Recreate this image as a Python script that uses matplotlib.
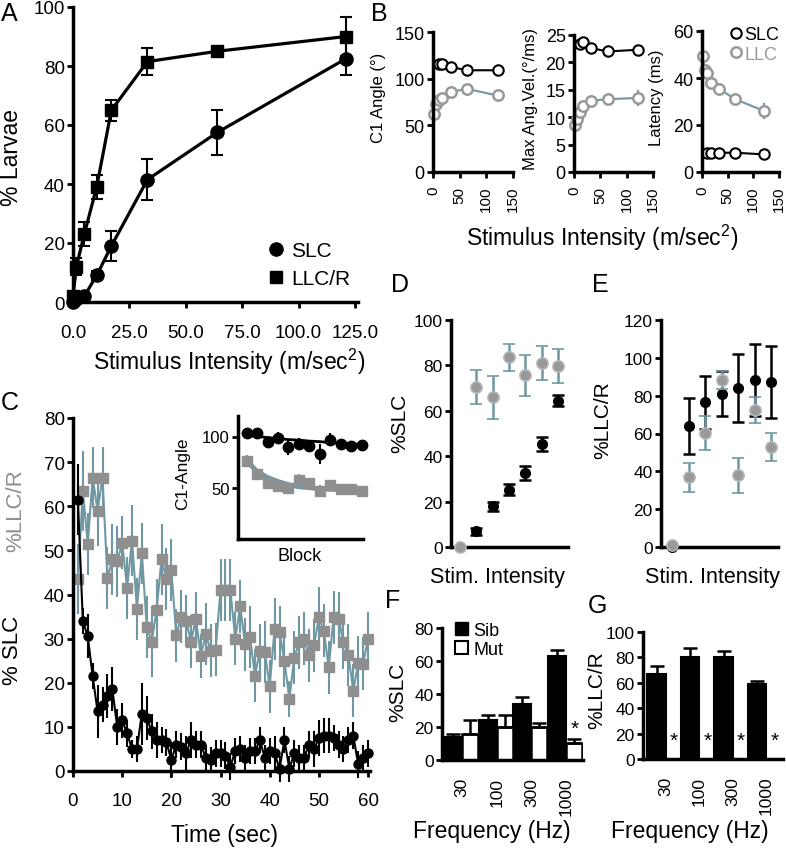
import matplotlib
matplotlib.use('Agg')
import matplotlib.pyplot as plt
from matplotlib.lines import Line2D
from matplotlib.patches import Patch

plt.rcParams['font.family'] = ['Liberation Sans', 'DejaVu Sans']
plt.rcParams['mathtext.fontset'] = 'custom'
plt.rcParams['mathtext.rm'] = 'Liberation Sans'
plt.rcParams['mathtext.it'] = 'Liberation Sans:italic'

# ---- data ----
# A: response probability vs stimulus intensity
a_x = [0, 1.5, 5, 10.5, 17, 33, 64, 121]
a_slc = [0, 1, 2, 9, 19, 41.5, 57.5, 82.5]
a_slc_err = [0.5, 0.5, 1, 1.5, 5, 7, 7.5, 5.5]
a_llc = [2, 12, 23, 39, 65, 81.5, 85, 90]
a_llc_err = [1, 3, 4, 4, 3.5, 4.5, 1.5, 6.5]

# B: kinematics
b_x_slc = [10.5, 17, 33, 64, 121]
b_x_llc = [1.5, 5, 10.5, 17, 33, 64, 121]
b_angle_slc = [116, 116, 112.5, 109, 109]
b_angle_llc = [62.5, 73, 77, 79, 86, 89, 82]
b_vel_slc = [23.4, 23.7, 22.6, 22, 22.3]
b_vel_llc = [8.6, 9.7, 11, 12, 13, 13.3, 13.5]
b_vel_llc_err = [0.5, 0.5, 0.5, 0.5, 0.8, 0.8, 1.5]
b_lat_slc = [8.2, 8.2, 8.2, 8.2, 7.5]
b_lat_llc = [49.4, 43.3, 42, 38, 35.5, 31, 26]
b_lat_llc_err = [1, 1, 1, 1, 1, 1, 3.5]

# C: habituation time course
c_time = list(range(1, 61))
c_slc = [61.5, 34, 30.5, 21.5, 13.5, 15, 17, 18.5, 10, 11.5,
         8.5, 5, 5, 13, 12, 9, 7, 7, 6.5, 2.5,
         6, 5.5, 4, 7, 6, 6, 3, 2.5, 4, 4,
         3.5, 1, 4.5, 5, 3, 4.5, 4.5, 7, 3, 4.5,
         4, 0.5, 7, 0.5, 4, 3, 3, 6, 5, 7.5,
         8, 8, 7.5, 6, 5, 7, 8, 1.5, 3, 4]
c_slc_err = [8, 3, 5, 3, 6, 4, 5, 5, 4, 4,
             3, 2, 3, 7, 5, 4, 4, 3, 3, 4,
             3, 3, 4, 4, 3, 3, 3, 3, 3, 3,
             3, 3, 3, 3, 3, 3, 3, 3, 3, 3,
             4, 3, 3, 3, 3, 3, 3, 3, 4, 4,
             4, 4, 3, 3, 3, 3, 3, 3, 3, 3]
c_llc = [43.5, 63.5, 51.5, 66.5, 59, 66.5, 43.7, 48, 47.5, 51.7,
         41.5, 52.2, 36.8, 49.3, 32.7, 29.3, 36.5, 48, 43.6, 45.5,
         30.8, 35, 34, 29.3, 34.5, 26, 31, 27.3, 27.5, 41,
         41, 41, 30, 37.3, 28.7, 30.3, 21.6, 27.3, 27, 19.2,
         32.2, 31.4, 25, 16.3, 25.7, 29.2, 30, 26.2, 28.5, 34.8,
         31.8, 23.5, 34.8, 34.5, 29.2, 26.3, 18.2, 24.5, 24.3, 30]
c_llc_err = [8, 9, 7, 7, 8, 7, 7, 8, 8, 6,
             7, 8, 7, 7, 7, 8, 7, 8, 7, 7,
             6, 6, 6, 6, 6, 5, 7, 6, 6, 7,
             7, 7, 6, 6, 6, 7, 6, 6, 7, 6,
             7, 6, 6, 4, 6, 6, 6, 6, 6, 7,
             6, 6, 6, 6, 6, 7, 6, 6, 6, 6]

# C inset: C1 angle per block
blk = [1, 2, 3, 4, 5, 6, 7, 8, 9, 10, 11, 12]
ins_slc = [103, 103, 95, 99, 90, 93, 91, 83, 97, 93, 91, 92]
ins_slc_err = [2, 2, 4, 5, 8, 6, 6, 10, 6, 4, 5, 4]
ins_slc_fit = [101, 100, 99, 98, 97, 96.5, 95.5, 95, 94, 93.5, 93, 92]
ins_llc = [76, 63, 55, 52, 50, 58, 55, 47, 53, 48.6, 48.6, 47]
ins_llc_err = [6, 5, 5, 4, 4, 5, 5, 6, 5, 4, 4, 4]
ins_llc_fit = [76, 66, 60, 56, 53, 51, 50, 49, 48.5, 48, 47.5, 47]

# D, E: mutant vs sibling across stimulus intensities
de_pos = [0, 1, 2, 3, 4, 5, 6]
d_black = [0, 7, 18, 25.3, 32.5, 45.5, 64.5]
d_black_err = [0, 1.5, 2, 2.5, 3, 3, 2.5]
d_grey = [0, 70.3, 66, 83.5, 75.7, 81, 79.8]
d_grey_err = [0, 7.5, 9.5, 6, 9, 7.5, 7.5]
e_black = [0, 64, 76.5, 81, 84, 88.3, 87]
e_black_err = [0, 15, 14, 12, 18, 19, 19]
e_grey = [1, 36.8, 60.4, 88.3, 37.8, 72.5, 52.8]
e_grey_err = [0, 7.5, 9, 5, 9, 7, 7.5]

# F, G: frequency
freq = ['30', '100', '300', '1000']
f_sib = [14, 24, 34, 63]
f_sib_err = [2, 3, 4, 3.7]
f_mut = [16, 19.7, 19.7, 10.2]
f_mut_err = [8, 7.5, 3, 2.8]
g_sib = [66.6, 80.3, 80.3, 58.7]
g_sib_err = [6.5, 7, 4.5, 2.5]
g_mut = [0, 0, 0, 0]

TEAL = '#6f98a2'
GREY = '#999999'
GREY_SQ = '#8f8f8f'

W, H = 786, 853
fig = plt.figure(figsize=(W / 100, H / 100), dpi=100)


def box(x0, y0, x1, y1):
    return fig.add_axes([x0 / W, 1 - y1 / H, (x1 - x0) / W, (y1 - y0) / H])


def txt(x, y, s, **kw):
    kw.setdefault('ha', 'center')
    kw.setdefault('va', 'center')
    fig.text(x / W, 1 - y / H, s, **kw)


def style(ax, size=13):
    for s in ['top', 'right']:
        ax.spines[s].set_visible(False)
    for s in ['left', 'bottom']:
        ax.spines[s].set_linewidth(2.5)
    ax.tick_params(width=2, length=4, labelsize=size, pad=2)
    ax.patch.set_alpha(0)


def noclip(cont):
    for art in cont.get_children():
        art.set_clip_on(False)


# ---------------- A ----------------
ax = box(73, 8, 358, 303)
style(ax, 13.5)
c = ax.errorbar(a_x, a_llc, yerr=a_llc_err, color='k', marker='s', ms=9, lw=2.3,
                capsize=4.5, elinewidth=1.5, capthick=1.5)
noclip(c)
c = ax.errorbar(a_x, a_slc, yerr=a_slc_err, color='k', marker='o', ms=9.5, lw=2.3,
                capsize=4.5, elinewidth=1.5, capthick=1.5)
noclip(c)
ax.set_xlim(0, 126.3)
ax.set_ylim(0, 100)
ax.set_xticks([0, 25, 50, 75, 100, 125])
ax.set_xticklabels(['0.0', '25.0', '50.0', '75.0', '100.0', '125.0'])
ax.set_yticks(range(0, 101, 20))
ax.tick_params(axis='x', pad=12)
hs = [Line2D([], [], ls='none', marker='o', color='k', ms=9.5),
      Line2D([], [], ls='none', marker='s', color='k', ms=9)]
ax.legend(hs, ['SLC', 'LLC/R'], loc='upper left', bbox_to_anchor=(268 / W, 1 - 242 / H),
          bbox_transform=fig.transFigure, frameon=False, fontsize=15,
          handlelength=0.8, handletextpad=0.3, borderpad=0, borderaxespad=0, labelspacing=0.45)
txt(12, 157, '% Larvae', rotation=90, fontsize=16.5)
txt(229, 362, r'Stimulus Intensity (m/sec$^{2}$)', fontsize=16.5)

# ---------------- B ----------------
b_specs = [
    ((433, 33, 513, 173), b_angle_slc, b_angle_llc, None, (0, 150), [0, 50, 100, 150],
     'C1 Angle (°)', 379),
    ((574, 36, 653, 173), b_vel_slc, b_vel_llc, b_vel_llc_err, (0, 25), [0, 5, 10, 15, 20, 25],
     'Max Ang.Vel.(°/ms)', 530),
    ((702, 32, 779, 173), b_lat_slc, b_lat_llc, b_lat_llc_err, (0, 60), [0, 20, 40, 60],
     'Latency (ms)', 657),
]
for rect, slc, llc, llc_err, ylim, yt, lab, lx in b_specs:
    ax = box(*rect)
    style(ax, 13)
    c = ax.errorbar(b_x_llc, llc, yerr=llc_err, color=TEAL, lw=1.5, marker='o', ms=7.5,
                    mfc='white', mec=GREY, mew=1.8, capsize=0, elinewidth=1.5)
    noclip(c)
    ln, = ax.plot(b_x_slc, slc, color='k', lw=1.5, marker='o', ms=7.5, mfc='white',
                  mec='k', mew=1.5, clip_on=False)
    ax.set_xlim(0, 150)
    ax.set_ylim(*ylim)
    ax.set_yticks(yt)
    ax.set_xticks([0, 50, 100, 150])
    ax.tick_params(axis='x', labelrotation=90, labelsize=11, pad=6)
    txt(lx, (rect[1] + rect[3]) / 2 - 5, lab, rotation=90, fontsize=12)
bh = [Line2D([], [], ls='none', marker='o', mfc='white', mec='k', mew=1.5, ms=7.5),
      Line2D([], [], ls='none', marker='o', mfc='white', mec=GREY, mew=1.8, ms=7.5)]
ax.legend(bh, ['SLC', 'LLC'], loc='upper left', bbox_to_anchor=(731 / W, 1 - 27 / H),
          bbox_transform=fig.transFigure, frameon=False, fontsize=13, labelcolor=['k', GREY],
          handlelength=0.5, handletextpad=0.25, borderpad=0, borderaxespad=0, labelspacing=0.15)
txt(602, 238, r'Stimulus Intensity (m/sec$^{2}$)', fontsize=16.5)

# ---------------- C ----------------
ax = box(73, 419, 370, 772)
style(ax, 13.5)
c = ax.errorbar(c_time, c_llc, yerr=c_llc_err, color=TEAL, lw=1.5, elinewidth=1.5, capsize=0,
                marker='s', ms=7, mfc=GREY_SQ, mec=GREY_SQ, zorder=2)
noclip(c)
c = ax.errorbar(c_time, c_slc, yerr=c_slc_err, color='k', lw=1.5, elinewidth=1.5, capsize=0,
                marker='o', ms=6.5, zorder=3)
noclip(c)
ax.set_xlim(0, 60.4)
ax.set_ylim(0, 80)
ax.set_xticks(range(0, 61, 10))
ax.set_yticks(range(0, 81, 10))
ax.tick_params(axis='x', pad=11)
txt(16, 511, '%LLC/R', rotation=90, fontsize=16, color=GREY_SQ)
txt(13, 650, '% SLC', rotation=90, fontsize=16)
txt(225, 836, 'Time (sec)', fontsize=16.5)

ins = box(238, 417, 363, 540)
style(ins, 12)
ins.plot(blk, ins_llc_fit, color=TEAL, lw=3.5, zorder=2)
c = ins.errorbar(blk, ins_llc, yerr=ins_llc_err, ls='none', marker='s', color=TEAL, ms=7,
                 mfc=GREY_SQ, mec=GREY_SQ, elinewidth=1.5, capsize=0, zorder=3)
noclip(c)
ins.plot(blk, ins_slc_fit, color='k', lw=2, zorder=4)
c = ins.errorbar(blk, ins_slc, yerr=ins_slc_err, ls='none', marker='o', color='k', ms=7.5,
                 elinewidth=1.5, capsize=0, zorder=5)
noclip(c)
ins.set_xlim(0.17, 12.13)
ins.set_ylim(0, 120)
ins.set_xticks([])
ins.set_yticks([50, 100])
txt(183, 474, 'C1-Angle', rotation=90, fontsize=12.5)
txt(300, 557, 'Block', fontsize=13)

# ---------------- D / E ----------------
de_specs = [
    ((451, 321, 568, 548), d_black, d_black_err, d_grey, d_grey_err, (-0.55, 6.6), (0, 100),
     range(0, 101, 20), '%SLC', 400, 423, 497),
    ((661, 321, 778, 548), e_black, e_black_err, e_grey, e_grey_err, (-0.67, 6.4), (0, 120),
     range(0, 121, 20), '%LLC/R', 603, 420, 712),
]
for rect, blk_v, blk_e, gr_v, gr_e, xl, yl, yt, lab, lx, ly, sx in de_specs:
    ax = box(*rect)
    style(ax, 12.5)
    c = ax.errorbar(de_pos, blk_v, yerr=blk_e, ls='none', marker='o', color='k', ms=7,
                    capsize=4.5, elinewidth=1.8, capthick=1.8, zorder=3)
    noclip(c)
    c = ax.errorbar(de_pos, gr_v, yerr=gr_e, ls='none', marker='o', color=TEAL, ms=8,
                    mfc=GREY, mec='#b5b5b5', mew=1.2, capsize=4.5, elinewidth=1.8,
                    capthick=1.8, zorder=4)
    noclip(c)
    ax.set_xlim(*xl)
    ax.set_ylim(*yl)
    ax.set_yticks(list(yt))
    ax.set_xticks([])
    txt(lx, ly, lab, rotation=90, fontsize=15)
    txt(sx, 577, 'Stim. Intensity', fontsize=15.5)

# ---------------- F ----------------
pos = [0, 1, 2, 3]
ax = box(442, 629, 583, 761)
style(ax, 12.5)
ax.bar(pos, f_sib, width=-0.52, align='edge', color='k', edgecolor='k', lw=1.5,
       yerr=[[0] * 4, f_sib_err], error_kw=dict(ecolor='k', elinewidth=1.8, capsize=5, capthick=1.8))
ax.bar(pos, f_mut, width=0.46, align='edge', color='white', edgecolor='k', lw=1.8,
       yerr=[[0] * 4, f_mut_err], error_kw=dict(ecolor='k', elinewidth=1.8, capsize=5, capthick=1.8))
ax.set_xlim(-0.57, 3.48)
ax.set_ylim(0, 80)
ax.set_yticks(range(0, 81, 20))
ax.set_xticks(pos)
ax.set_xticklabels(freq, rotation=90)
ax.tick_params(axis='x', length=0, pad=12)
ax.text(3.23, 19, '*', ha='center', va='center', fontsize=15)
fh = [Patch(facecolor='k', edgecolor='k'), Patch(facecolor='white', edgecolor='k', lw=1.5)]
ax.legend(fh, ['Sib', 'Mut'], loc='upper left', bbox_to_anchor=(455 / W, 1 - 623 / H),
          bbox_transform=fig.transFigure, frameon=False, fontsize=13,
          handlelength=0.7, handleheight=0.7, handletextpad=0.3, borderpad=0,
          borderaxespad=0, labelspacing=0.1)
txt(398, 692, '%SLC', rotation=90, fontsize=15)
txt(492, 832, 'Frequency (Hz)', fontsize=16.5)

# ---------------- G ----------------
ax = box(643, 633, 783, 760)
style(ax, 12.5)
ax.bar(pos, g_sib, width=-0.55, align='edge', color='k', edgecolor='k', lw=1.5,
       yerr=[[0] * 4, g_sib_err], error_kw=dict(ecolor='k', elinewidth=1.8, capsize=5, capthick=1.8))
ax.bar(pos, g_mut, width=0.45, align='edge', color='white', edgecolor='k', lw=1.8)
for p in pos:
    ax.text(p + 0.24, 14.5, '*', ha='center', va='center', fontsize=15)
ax.set_xlim(-0.68, 3.5)
ax.set_ylim(0, 100)
ax.set_yticks(range(0, 101, 20))
ax.set_xticks(pos)
ax.set_xticklabels(freq, rotation=90)
ax.tick_params(axis='x', length=0, pad=12)
txt(597, 690, '%LLC/R', rotation=90, fontsize=15)
txt(690, 832, 'Frequency (Hz)', fontsize=16.5)

# ---------------- panel letters ----------------
for lab, x, y in [('A', 9, 14), ('B', 379, 14), ('C', 10, 403), ('D', 400, 285),
                  ('E', 600, 285), ('F', 393, 601), ('G', 597, 606)]:
    txt(x, y, lab, fontsize=18)

fig.savefig('out.png', dpi=100)
